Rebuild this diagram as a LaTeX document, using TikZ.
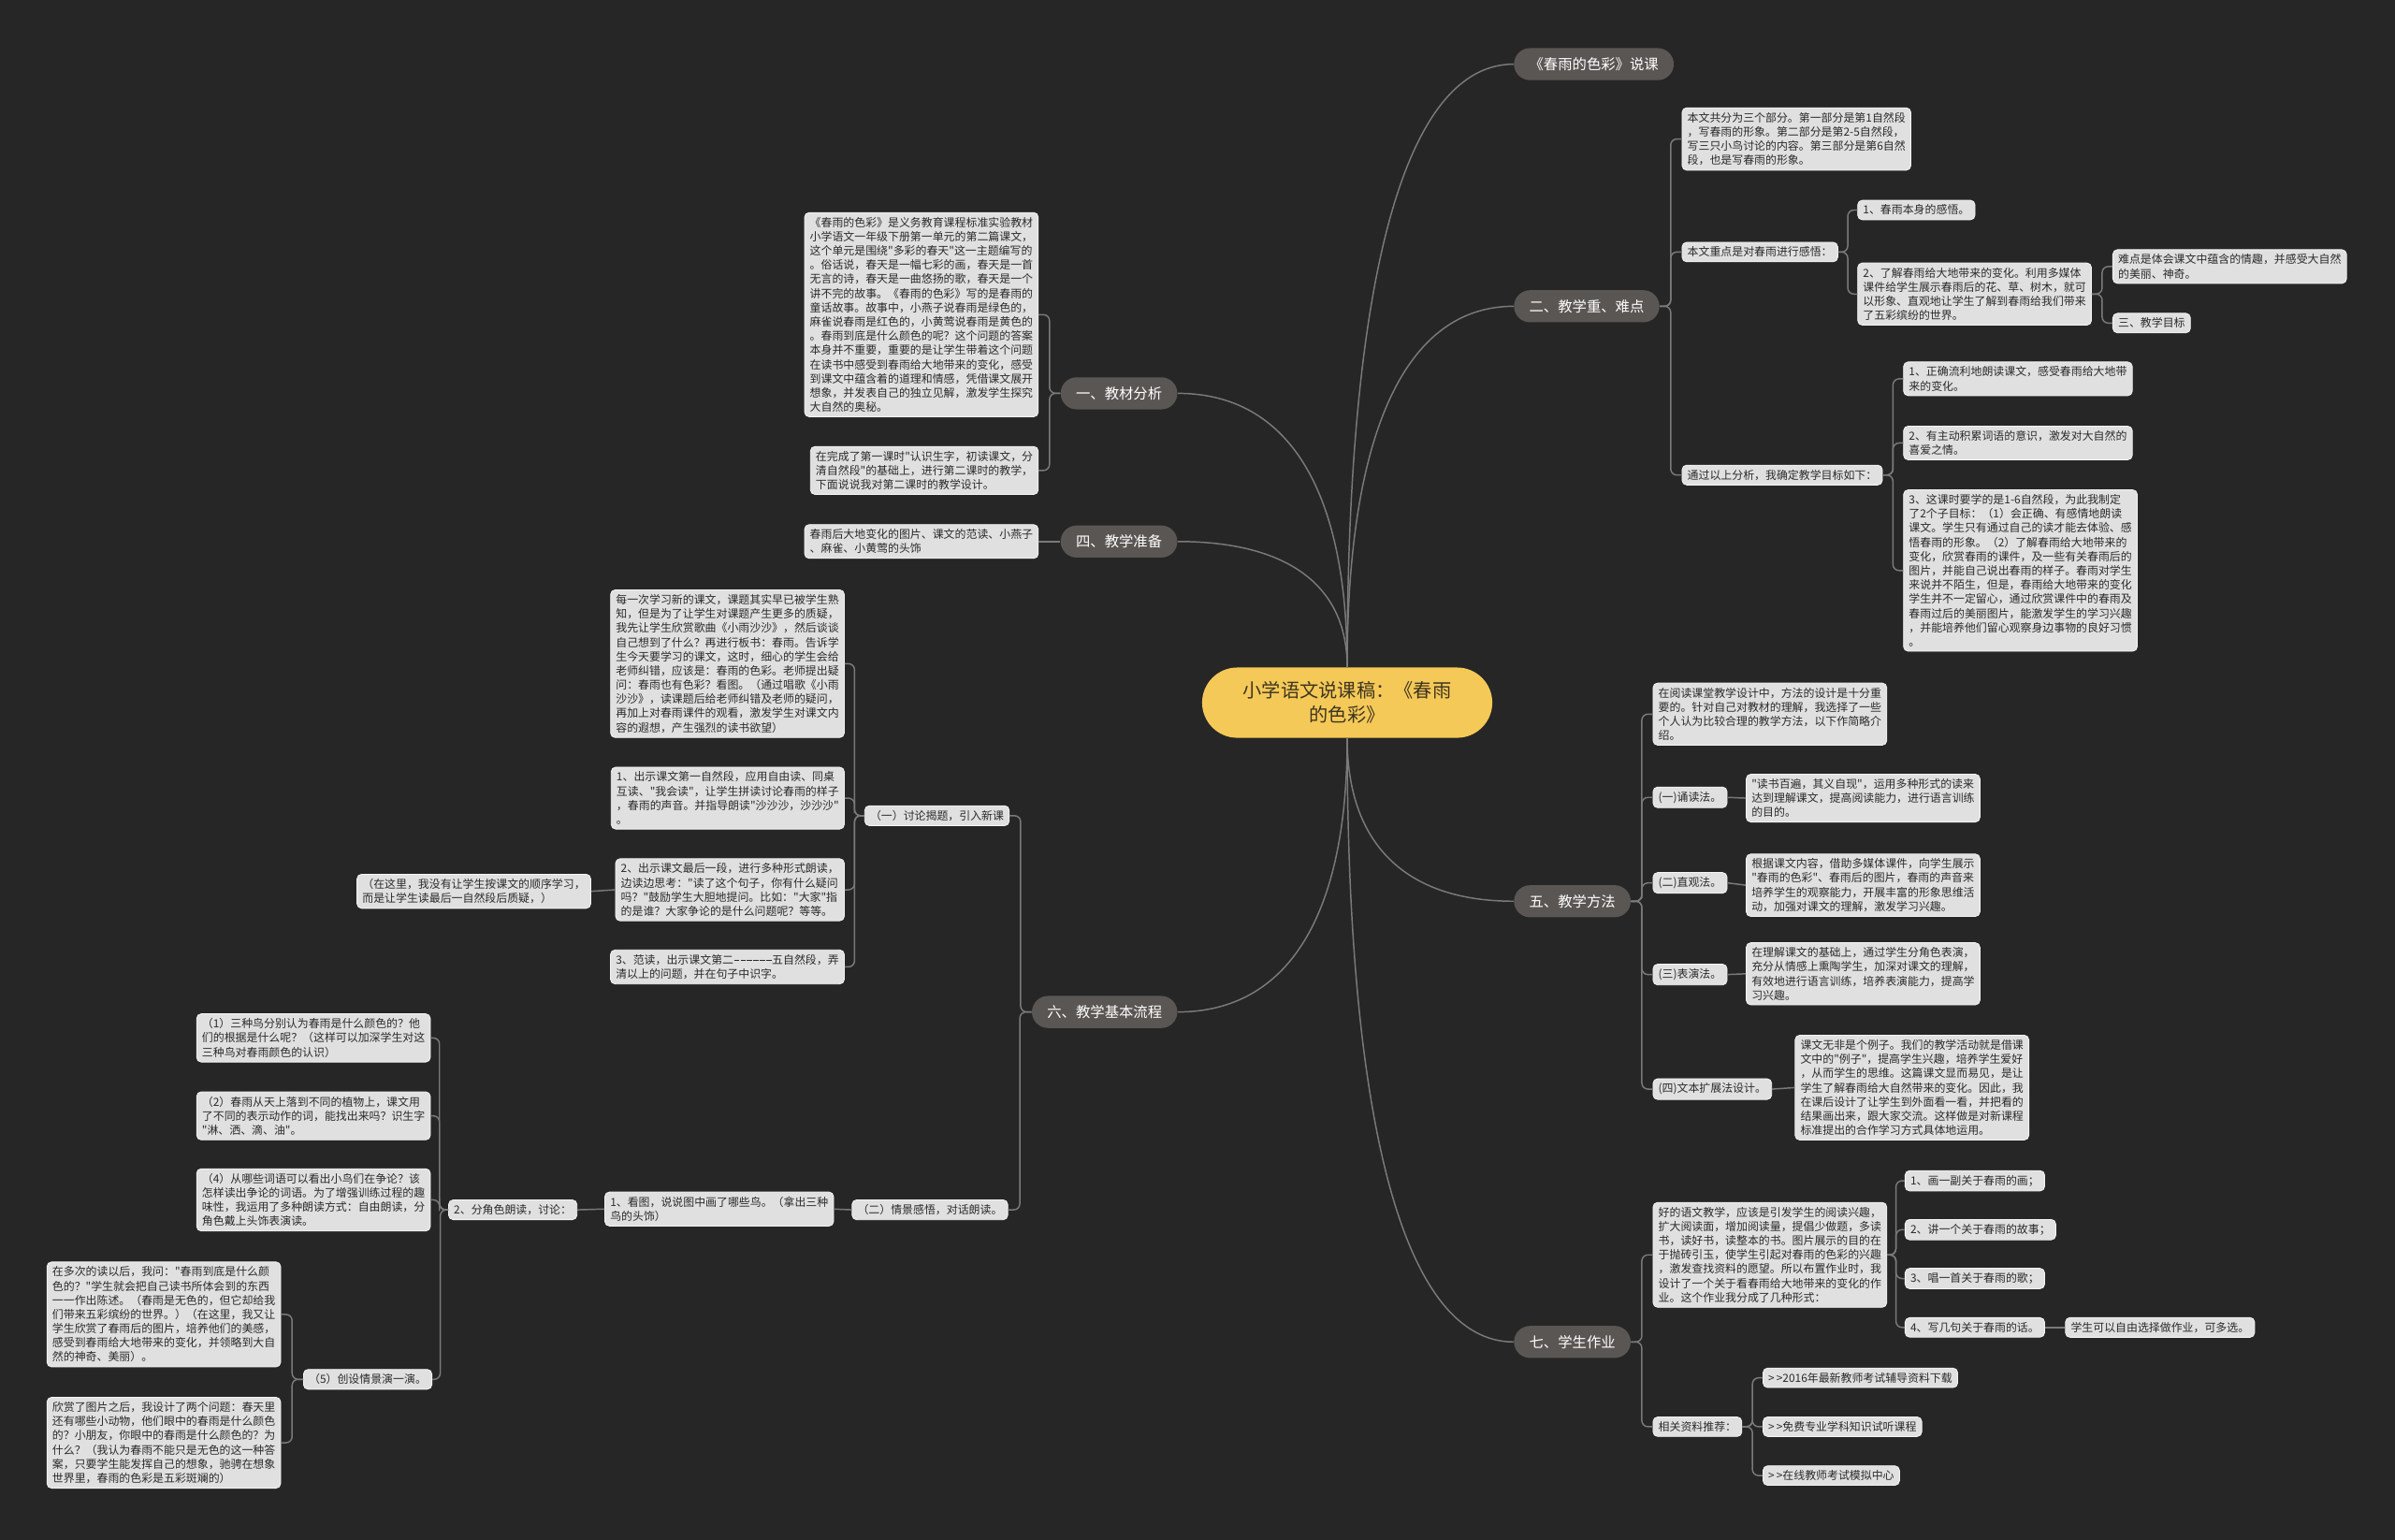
\documentclass[tikz,border=0pt]{standalone}
\usepackage{fontspec}
\setmainfont{Noto Sans CJK SC}[Ligatures=TeXOff]
\usetikzlibrary{calc}
\definecolor{bgc}{HTML}{262626}
\definecolor{leafc}{HTML}{E0E0E0}
\definecolor{leafb}{HTML}{F4F4F4}
\definecolor{leaft}{HTML}{2A2A2A}
\definecolor{brc}{HTML}{5A5653}
\definecolor{rootc}{HTML}{F5C957}
\definecolor{roott}{HTML}{3D3522}
\definecolor{linec}{HTML}{7A7A7A}
\tikzset{
 leaf/.style={fill=leafc, draw=leafb, line width=0.5pt, rounded corners=3pt, text=leaft, align=left, font=\fontsize{7.3}{9.3}\selectfont, inner xsep=3.5pt, inner ysep=3pt},
 branch/.style={fill=brc, text=white, rounded corners=10.5pt, font=\fontsize{9.4}{11}\selectfont, inner xsep=10pt, inner ysep=0pt, minimum height=21pt},
 rootnode/.style={fill=rootc, text=roott, rounded corners=23pt, font=\fontsize{12.4}{16}\selectfont, align=center, minimum width=190pt, minimum height=46pt},
 conn/.style={draw=linec, line width=0.9pt, rounded corners=4pt},
 rconn/.style={draw=linec, line width=0.9pt},
}
\newcommand\er[2]{\draw[conn] (#1.east) -| ($(#1.east)!.5!(#2.west)$) |- (#2.west);}
\newcommand\el[2]{\draw[conn] (#1.west) -| ($(#1.west)!.5!(#2.east)$) |- (#2.east);}
\newcommand\ehr[2]{\draw[conn] (#1.east) -- (#2.west);}
\newcommand\ehl[2]{\draw[conn] (#1.west) -- (#2.east);}
% root curve: #1 root anchor, #2 branch anchor
\newcommand\rc[2]{\draw[rconn] (#1) .. controls ($(#1)!0.65!(#1 |- #2)$) and ($(#2)!0.65!(#1 |- #2)$) .. (#2);}
\newcommand\hy{\makebox[4.2pt]{\rule[2.4pt]{3.4pt}{0.45pt}}}
\begin{document}
\begin{tikzpicture}[x=1pt,y=-1pt]
\path[use as bounding box, fill=bgc] (0,0) rectangle (1568,1008);
% root
\node[rootnode] (root) at (882,460) {小学语文说课稿：《春雨\\的色彩》};
% right branches
\node[branch, anchor=west] (R0) at (991,42) {《春雨的色彩》说课};
\node[branch, anchor=west] (R1) at (991,200.5) {二、教学重、难点};
\node[branch, anchor=west] (R2) at (991,590) {五、教学方法};
\node[branch, anchor=west] (R3) at (991,878.5) {七、学生作业};
% left branches
\node[branch, anchor=east] (L1) at (771,257.5) {一、教材分析};
\node[branch, anchor=east] (L2) at (771,354.5) {四、教学准备};
\node[branch, anchor=east] (L3) at (771,662.5) {六、教学基本流程};
% R1 children
\node[leaf, anchor=west] (R1a) at (1101,91) {本文共分为三个部分。第一部分是第1自然段\\，写春雨的形象。第二部分是第2-5自然段，\\写三只小鸟讨论的内容。第三部分是第6自然\\段，也是写春雨的形象。};
\node[leaf, anchor=west] (R1b) at (1101,165) {本文重点是对春雨进行感悟：};
\node[leaf, anchor=west] (R1b1) at (1216,137.5) {1、春雨本身的感悟。};
\node[leaf, anchor=west] (R1b2) at (1216,192.5) {2、了解春雨给大地带来的变化。利用多媒体\\课件给学生展示春雨后的花、草、树木，就可\\以形象、直观地让学生了解到春雨给我们带来\\了五彩缤纷的世界。};
\node[leaf, anchor=west] (R1b2a) at (1383,174.5) {难点是体会课文中蕴含的情趣，并感受大自然\\的美丽、神奇。};
\node[leaf, anchor=west] (R1b2b) at (1383,211.5) {三、教学目标};
\node[leaf, anchor=west] (R1c) at (1101,311) {通过以上分析，我确定教学目标如下：};
\node[leaf, anchor=west] (R1c1) at (1246,248) {1、正确流利地朗读课文，感受春雨给大地带\\来的变化。};
\node[leaf, anchor=west] (R1c2) at (1246,290) {2、有主动积累词语的意识，激发对大自然的\\喜爱之情。};
\node[leaf, anchor=west] (R1c3) at (1246,373.5) {3、这课时要学的是1-6自然段，为此我制定\\了2个子目标：（1）会正确、有感情地朗读\\课文。学生只有通过自己的读才能去体验、感\\悟春雨的形象。（2）了解春雨给大地带来的\\变化，欣赏春雨的课件，及一些有关春雨后的\\图片，并能自己说出春雨的样子。春雨对学生\\来说并不陌生，但是，春雨给大地带来的变化\\学生并不一定留心，通过欣赏课件中的春雨及\\春雨过后的美丽图片，能激发学生的学习兴趣\\，并能培养他们留心观察身边事物的良好习惯\\。};
% R2 children
\node[leaf, anchor=west] (R2a) at (1082,467.5) {在阅读课堂教学设计中，方法的设计是十分重\\要的。针对自己对教材的理解，我选择了一些\\个人认为比较合理的教学方法，以下作简略介\\绍。};
\node[leaf, anchor=west] (R2b) at (1082,522) {(一)诵读法。};
\node[leaf, anchor=west] (R2b1) at (1143,522.5) {"读书百遍，其义自现"，运用多种形式的读来\\达到理解课文，提高阅读能力，进行语言训练\\的目的。};
\node[leaf, anchor=west] (R2c) at (1082,578) {(二)直观法。};
\node[leaf, anchor=west] (R2c1) at (1143,579.5) {根据课文内容，借助多媒体课件，向学生展示\\"春雨的色彩"、春雨后的图片，春雨的声音来\\培养学生的观察能力，开展丰富的形象思维活\\动，加强对课文的理解，激发学习兴趣。};
\node[leaf, anchor=west] (R2d) at (1082,638) {(三)表演法。};
\node[leaf, anchor=west] (R2d1) at (1143,637.5) {在理解课文的基础上，通过学生分角色表演，\\充分从情感上熏陶学生，加深对课文的理解，\\有效地进行语言训练，培养表演能力，提高学\\习兴趣。};
\node[leaf, anchor=west] (R2e) at (1082,713) {(四)文本扩展法设计。};
\node[leaf, anchor=west] (R2e1) at (1175,712) {课文无非是个例子。我们的教学活动就是借课\\文中的"例子"，提高学生兴趣，培养学生爱好\\，从而学生的思维。这篇课文显而易见，是让\\学生了解春雨给大自然带来的变化。因此，我\\在课后设计了让学生到外面看一看，并把看的\\结果画出来，跟大家交流。这样做是对新课程\\标准提出的合作学习方式具体地运用。};
% R3 children
\node[leaf, anchor=west] (R3a) at (1082,821.5) {好的语文教学，应该是引发学生的阅读兴趣，\\扩大阅读面，增加阅读量，提倡少做题，多读\\书，读好书，读整本的书。图片展示的目的在\\于抛砖引玉，使学生引起对春雨的色彩的兴趣\\，激发查找资料的愿望。所以布置作业时，我\\设计了一个关于看春雨给大地带来的变化的作\\业。这个作业我分成了几种形式：};
\node[leaf, anchor=west] (R3a1) at (1247,773) {1、画一副关于春雨的画；};
\node[leaf, anchor=west] (R3a2) at (1247,805) {2、讲一个关于春雨的故事；};
\node[leaf, anchor=west] (R3a3) at (1247,837) {3、唱一首关于春雨的歌；};
\node[leaf, anchor=west] (R3a4) at (1247,869) {4、写几句关于春雨的话。};
\node[leaf, anchor=west] (R3a4a) at (1352,869) {学生可以自由选择做作业，可多选。};
\node[leaf, anchor=west] (R3b) at (1082,934) {相关资料推荐：};
\node[leaf, anchor=west] (R3b1) at (1154,902) {>\,>2016年最新教师考试辅导资料下载};
\node[leaf, anchor=west] (R3b2) at (1154,934) {>\,>免费专业学科知识试听课程};
\node[leaf, anchor=west] (R3b3) at (1154,966) {>\,>在线教师考试模拟中心};
% L1, L2 children
\node[leaf, anchor=east] (L1a) at (680,206) {《春雨的色彩》是义务教育课程标准实验教材\\小学语文一年级下册第一单元的第二篇课文，\\这个单元是围绕"多彩的春天"这一主题编写的\\。俗话说，春天是一幅七彩的画，春天是一首\\无言的诗，春天是一曲悠扬的歌，春天是一个\\讲不完的故事。《春雨的色彩》写的是春雨的\\童话故事。故事中，小燕子说春雨是绿色的，\\麻雀说春雨是红色的，小黄莺说春雨是黄色的\\。春雨到底是什么颜色的呢？这个问题的答案\\本身并不重要，重要的是让学生带着这个问题\\在读书中感受到春雨给大地带来的变化，感受\\到课文中蕴含着的道理和情感，凭借课文展开\\想象，并发表自己的独立见解，激发学生探究\\大自然的奥秘。};
\node[leaf, anchor=east] (L1b) at (680,308) {在完成了第一课时"认识生字，初读课文，分\\清自然段"的基础上，进行第二课时的教学，\\下面说说我对第二课时的教学设计。};
\node[leaf, anchor=east] (L2a) at (680,354.5) {春雨后大地变化的图片、课文的范读、小燕子\\、麻雀、小黄莺的头饰};
% L3 children
\node[leaf, anchor=east] (L3a) at (661,534) {（一）讨论揭题，引入新课};
\node[leaf, anchor=east] (L3a1) at (553,434.5) {每一次学习新的课文，课题其实早已被学生熟\\知，但是为了让学生对课题产生更多的质疑，\\我先让学生欣赏歌曲《小雨沙沙》，然后谈谈\\自己想到了什么？再进行板书：春雨。告诉学\\生今天要学习的课文，这时，细心的学生会给\\老师纠错，应该是：春雨的色彩。老师提出疑\\问：春雨也有色彩？看图。（通过唱歌《小雨\\沙沙》，读课题后给老师纠错及老师的疑问，\\再加上对春雨课件的观看，激发学生对课文内\\容的遐想，产生强烈的读书欲望）};
\node[leaf, anchor=east] (L3a2) at (553,522.5) {1、出示课文第一自然段，应用自由读、同桌\\互读、"我会读"，让学生拼读讨论春雨的样子\\，春雨的声音。并指导朗读"沙沙沙，沙沙沙"\\。};
\node[leaf, anchor=east] (L3a3) at (553,582.5) {2、出示课文最后一段，进行多种形式朗读，\\边读边思考："读了这个句子，你有什么疑问\\吗？"鼓励学生大胆地提问。比如："大家"指\\的是谁？大家争论的是什么问题呢？等等。};
\node[leaf, anchor=east] (L3a3a) at (387,583.5) {（在这里，我没有让学生按课文的顺序学习，\\而是让学生读最后一自然段后质疑，）};
\node[leaf, anchor=east] (L3a4) at (553,633) {3、范读，出示课文第二\hy\hy\hy\hy\hy\hy 五自然段，弄\\清以上的问题，并在句子中识字。};
\node[leaf, anchor=east] (L3b) at (660,792) {（二）情景感悟，对话朗读。};
\node[leaf, anchor=east] (L3b1) at (546,791.5) {1、看图，说说图中画了哪些鸟。（拿出三种\\鸟的头饰）};
\node[leaf, anchor=east] (L3b1a) at (378,792) {2、分角色朗读，讨论：};
\node[leaf, anchor=east] (C1) at (282,679.5) {（1）三种鸟分别认为春雨是什么颜色的？他\\们的根据是什么呢？（这样可以加深学生对这\\三种鸟对春雨颜色的认识）};
\node[leaf, anchor=east] (C2) at (282,730.5) {（2）春雨从天上落到不同的植物上，课文用\\了不同的表示动作的词，能找出来吗？识生字\\"淋、洒、滴、油"。};
\node[leaf, anchor=east] (C3) at (282,785.5) {（4）从哪些词语可以看出小鸟们在争论？该\\怎样读出争论的词语。为了增强训练过程的趣\\味性，我运用了多种朗读方式：自由朗读，分\\角色戴上头饰表演读。};
\node[leaf, anchor=east] (C4) at (283,903) {（5）创设情景演一演。};
\node[leaf, anchor=east] (C4a) at (184,860.5) {在多次的读以后，我问："春雨到底是什么颜\\色的？"学生就会把自己读书所体会到的东西\\一一作出陈述。（春雨是无色的，但它却给我\\们带来五彩缤纷的世界。）（在这里，我又让\\学生欣赏了春雨后的图片，培养他们的美感，\\感受到春雨给大地带来的变化，并领略到大自\\然的神奇、美丽）。};
\node[leaf, anchor=east] (C4b) at (184,944.5) {欣赏了图片之后，我设计了两个问题：春天里\\还有哪些小动物，他们眼中的春雨是什么颜色\\的？小朋友，你眼中的春雨是什么颜色的？为\\什么？（我认为春雨不能只是无色的这一种答\\案，只要学生能发挥自己的想象，驰骋在想象\\世界里，春雨的色彩是五彩斑斓的）};
% root connectors
\rc{root.north}{R0.west}
\rc{root.north}{R1.west}
\rc{root.north}{L1.east}
\rc{root.north}{L2.east}
\rc{root.south}{R2.west}
\rc{root.south}{R3.west}
\rc{root.south}{L3.east}
% right connectors
\er{R1}{R1a}\er{R1}{R1b}\er{R1}{R1c}
\er{R1b}{R1b1}\er{R1b}{R1b2}
\er{R1b2}{R1b2a}\er{R1b2}{R1b2b}
\er{R1c}{R1c1}\er{R1c}{R1c2}\er{R1c}{R1c3}
\er{R2}{R2a}\er{R2}{R2b}\er{R2}{R2c}\er{R2}{R2d}\er{R2}{R2e}
\ehr{R2b}{R2b1}\ehr{R2c}{R2c1}\ehr{R2d}{R2d1}\ehr{R2e}{R2e1}
\er{R3}{R3a}\er{R3}{R3b}
\er{R3a}{R3a1}\er{R3a}{R3a2}\er{R3a}{R3a3}\er{R3a}{R3a4}
\ehr{R3a4}{R3a4a}
\er{R3b}{R3b1}\er{R3b}{R3b2}\er{R3b}{R3b3}
% left connectors
\el{L1}{L1a}\el{L1}{L1b}
\ehl{L2}{L2a}
\el{L3}{L3a}\el{L3}{L3b}
\el{L3a}{L3a1}\el{L3a}{L3a2}\el{L3a}{L3a3}\el{L3a}{L3a4}
\ehl{L3a3}{L3a3a}
\ehl{L3b}{L3b1}\ehl{L3b1}{L3b1a}
\el{L3b1a}{C1}\el{L3b1a}{C2}\el{L3b1a}{C3}\el{L3b1a}{C4}
\el{C4}{C4a}\el{C4}{C4b}
\end{tikzpicture}
\end{document}
